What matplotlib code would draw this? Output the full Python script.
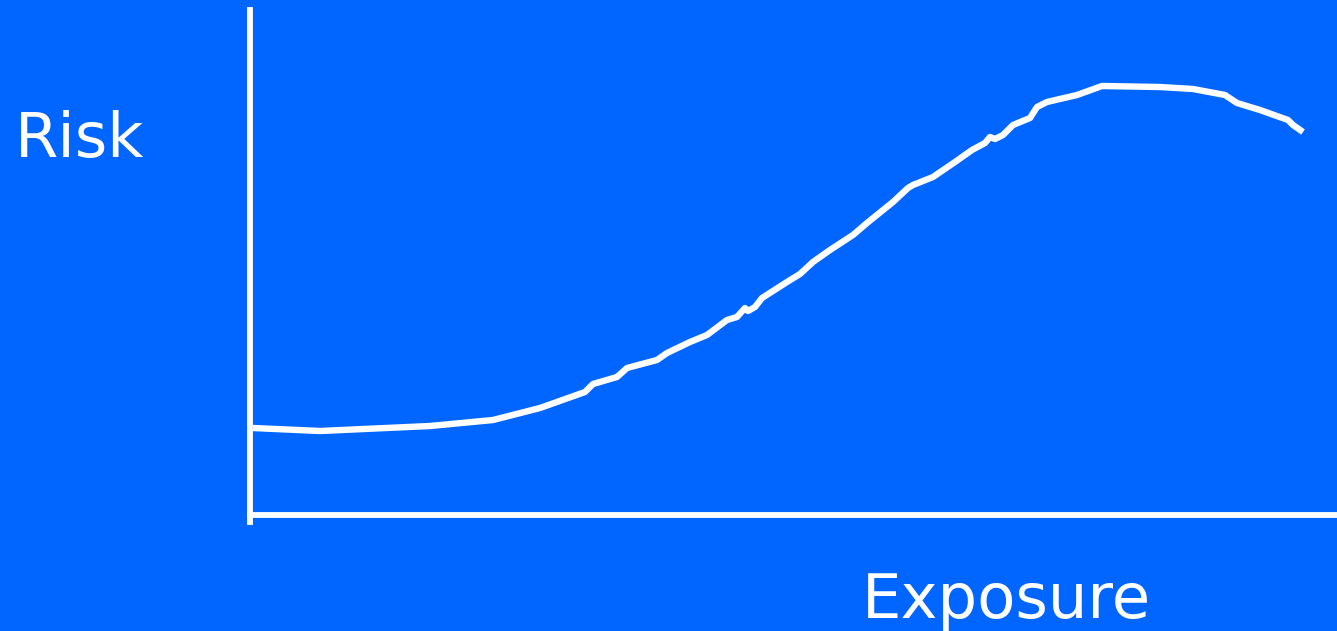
import matplotlib.pyplot as plt

# curve (origin at the corner of the axes)
exposure = [3, 70, 180, 243, 290, 335, 340, 343, 367, 377, 407, 417, 440, 457,
            477, 487, 495, 498, 505, 512, 537, 550, 563, 580, 603, 617, 643, 658,
            663, 683, 705, 722, 735, 740, 745, 753, 763, 780, 787, 797, 827, 852,
            910, 943, 975, 987, 1010, 1038, 1043, 1053]
risk = [87, 84, 89, 95, 107, 123, 128, 131, 138, 147, 155, 162, 173, 180,
        195, 198, 207, 204, 208, 217, 233, 241, 253, 265, 280, 292, 313, 327,
        330, 338, 353, 365, 372, 378, 376, 380, 390, 397, 408, 413, 420, 429,
        428, 426, 420, 412, 405, 395, 390, 383]

bg = '#0066ff'
fig = plt.figure(figsize=(13.37, 6.31), dpi=100, facecolor=bg)
ax = fig.add_axes([250 / 1337, 116 / 631, 1087 / 1337, 505 / 631])
ax.set_facecolor(bg)
ax.plot(exposure, risk, color='white', lw=4.6, solid_capstyle='butt',
        solid_joinstyle='round')
ax.set_xlim(0, 1087)
ax.set_ylim(0, 505)

for s in ['top', 'right']:
    ax.spines[s].set_visible(False)
for s in ['left', 'bottom']:
    ax.spines[s].set_color('white')
    ax.spines[s].set_linewidth(4.2)
ax.spines['left'].set_bounds(-7, 505)
ax.spines['left'].set_clip_on(False)
ax.set_xticks([])
ax.set_yticks([])

fig.text(15 / 1337, (631 - 157) / 631, 'Risk', color='white', fontsize=45,
         family='DejaVu Sans', va='baseline')
fig.text(862 / 1337, (631 - 618) / 631, 'Exposure', color='white', fontsize=45,
         family='DejaVu Sans', va='baseline')

fig.savefig('out.png', dpi=100, facecolor=bg)
